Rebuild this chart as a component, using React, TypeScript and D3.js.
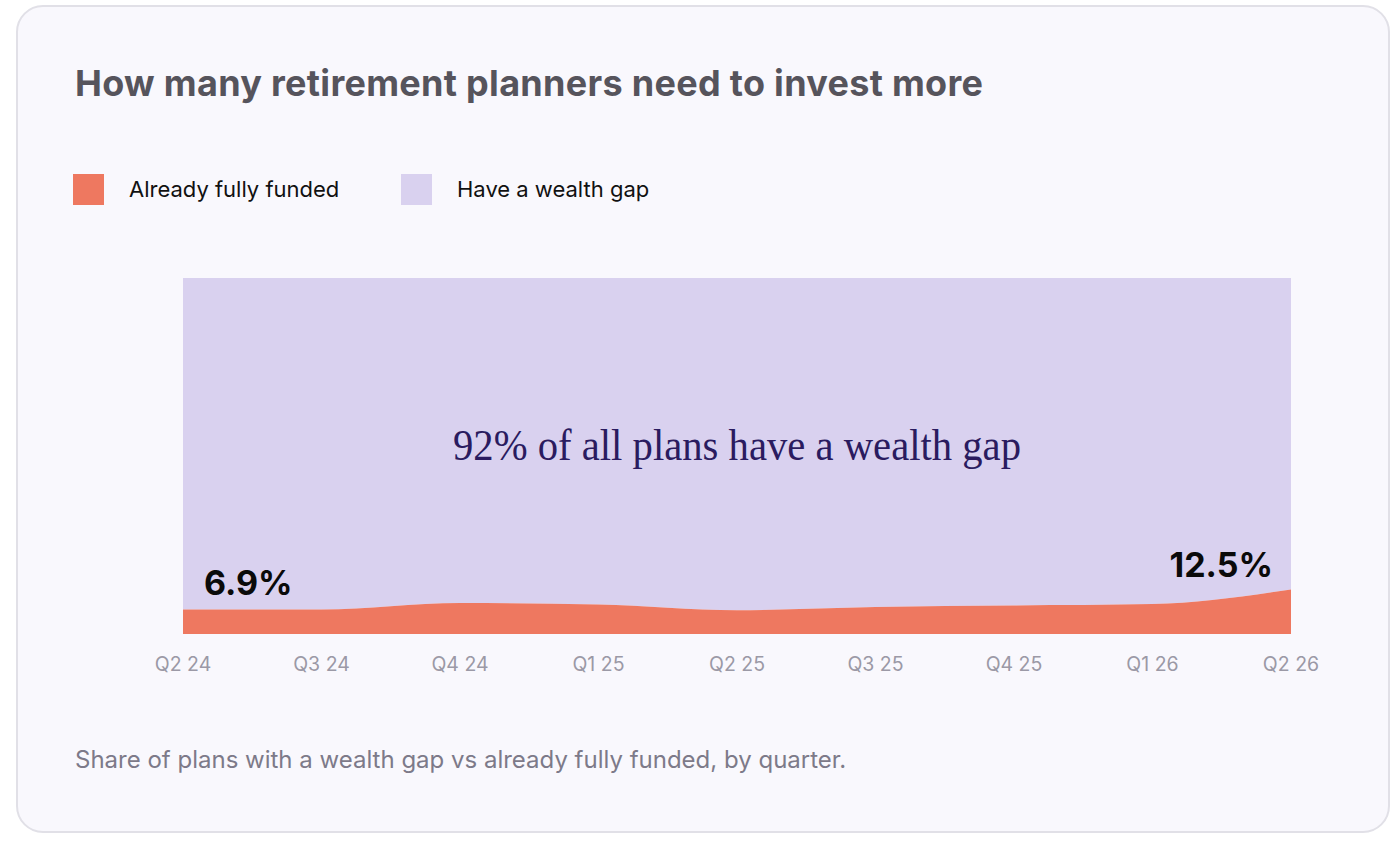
import React from "react";
import * as d3 from "d3";

const quarters = ["Q2 24", "Q3 24", "Q4 24", "Q1 25", "Q2 25", "Q3 25", "Q4 25", "Q1 26", "Q2 26"];
const fullyFunded = [6.9, 6.9, 8.7, 8.3, 6.7, 7.6, 8.0, 8.4, 12.5];
const seriesNames = ["Already fully funded", "Have a wealth gap"];
const seriesColors = ["#ee7860", "#d9d1ef"];
const titleText = "How many retirement planners need to invest more";
const centerNote = "92% of all plans have a wealth gap";
const caption = "Share of plans with a wealth gap vs already fully funded, by quarter.";

const W = 1400;
const H = 844;
const plot = { left: 183, right: 1291, top: 278, bottom: 634 };
const SANS = "Inter, 'Noto Sans', sans-serif";

export default function App() {
  const x = d3.scalePoint<string>().domain(quarters).range([plot.left, plot.right]);
  const y = d3.scaleLinear().domain([0, 100]).range([plot.bottom, plot.top]);

  const rows = quarters.map((q, i) => ({ q, funded: fullyFunded[i], gap: 100 - fullyFunded[i] }));
  const stack = d3.stack<any>().keys(["funded", "gap"])(rows);

  const area = d3
    .area<any>()
    .x((d) => x(d.data.q) as number)
    .y0((d) => y(d[0]))
    .y1((d) => y(d[1]))
    .curve(d3.curveMonotoneX);

  const first = fullyFunded[0];
  const last = fullyFunded[fullyFunded.length - 1];

  return (
    <svg
      width={W}
      height={H}
      style={{ position: "absolute", left: 0, top: 0, background: "#ffffff" }}
    >
      <rect x={17} y={6} width={1372} height={826} rx={26} ry={26} fill="#f9f8fd" stroke="#e1e0e7" strokeWidth={2} />
      <text x={75} y={96} fontFamily={SANS} fontSize={36} fontWeight={700} fill="#56545c" textLength={908} lengthAdjust="spacing">
        {titleText}
      </text>

      {seriesNames.map((name, i) => {
        const lx = i === 0 ? 73 : 401;
        return (
          <g key={name}>
            <rect x={lx} y={174} width={31} height={31} fill={seriesColors[i]} />
            <text x={lx + 56} y={197} fontFamily={SANS} fontSize={22} fill="#111">
              {name}
            </text>
          </g>
        );
      })}

      {stack
        .slice()
        .reverse()
        .map((s) => (
          <path key={s.key} d={area(s) as string} fill={s.key === "funded" ? seriesColors[0] : seriesColors[1]} />
        ))}

      <text
        x={(plot.left + plot.right) / 2}
        y={460}
        textAnchor="middle"
        fontFamily="'Liberation Serif', 'DejaVu Serif', serif"
        fontSize={45}
        fill="#2a1b5f"
        textLength={568}
        lengthAdjust="spacingAndGlyphs"
      >
        {centerNote}
      </text>

      <text x={204} y={595} fontFamily={SANS} fontSize={34} fontWeight={700} fill="#0a0a0a">
        {`${first}%`}
      </text>
      <text x={1273} y={577} textAnchor="end" fontFamily={SANS} fontSize={34} fontWeight={700} fill="#0a0a0a">
        {`${last}%`}
      </text>

      {quarters.map((q) => (
        <text
          key={q}
          x={x(q) as number}
          y={671}
          textAnchor="middle"
          fontFamily={SANS}
          fontSize={19.5}
          fill="#9b99a6"
        >
          {q}
        </text>
      ))}

      <text x={75} y={768} fontFamily={SANS} fontSize={24} fill="#7d7a89">
        {caption}
      </text>
    </svg>
  );
}
